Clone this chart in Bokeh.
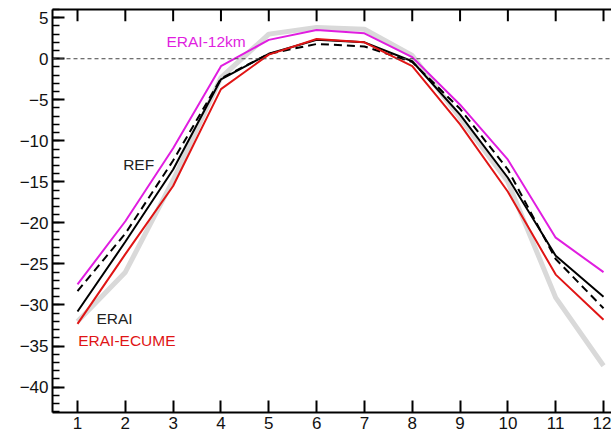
from bokeh.plotting import figure
from bokeh.models import LinearAxis, FixedTicker, SingleIntervalTicker, Span, Label
from bokeh.embed import file_html
from bokeh.resources import INLINE

months = [1, 2, 3, 4, 5, 6, 7, 8, 9, 10, 11, 12]
obs_gray = [-32.0, -26.0, -14.8, -2.3, 3.0, 3.8, 3.6, 0.4, -7.2, -15.0, -29.1, -37.4]
ref_dashed = [-28.3, -21.3, -12.4, -2.4, 0.6, 1.8, 1.5, -0.4, -6.1, -13.5, -24.4, -30.4]
erai = [-30.8, -22.3, -13.5, -2.5, 0.6, 2.3, 2.0, -0.3, -6.8, -14.5, -24.0, -29.0]
erai_ecume = [-32.3, -23.8, -15.5, -3.7, 0.5, 2.4, 2.0, -0.9, -8.0, -16.2, -26.3, -31.8]
erai_12km = [-27.5, -19.8, -10.9, -0.9, 2.3, 3.5, 3.1, 0.2, -5.6, -12.3, -21.8, -26.0]

FONT = "Liberation Sans"
Y_TOP = 6.0
Y_BOTTOM = -43.1

p = figure(width=611, height=438, x_range=(0.477, 12.167), y_range=(Y_BOTTOM, Y_TOP),
           output_backend="svg", toolbar_location=None,
           min_border_left=52, min_border_right=0, min_border_top=9, min_border_bottom=26)
p.outline_line_color = None
p.xgrid.visible = False
p.ygrid.visible = False
p.background_fill_color = "white"
p.border_fill_color = "white"

xt = FixedTicker(ticks=months)
yt = SingleIntervalTicker(interval=5, num_minor_ticks=5)

for ax in [p.xaxis[0], p.yaxis[0]]:
    ax.axis_line_width = 2
    ax.axis_line_color = "black"
    ax.major_tick_in = 12
    ax.major_tick_out = 0
    ax.major_tick_line_width = 2
    ax.minor_tick_in = 7
    ax.minor_tick_out = 0
    ax.minor_tick_line_width = 1.5
    ax.major_label_text_font = FONT
    ax.major_label_text_font_size = "17px"
    ax.major_label_text_color = "#111111"
    ax.major_label_standoff = 4

p.xaxis[0].ticker = xt
p.xaxis[0].minor_tick_line_color = None
p.yaxis[0].ticker = yt

# top frame line (no ticks / labels from the axis itself)
top = LinearAxis(ticker=FixedTicker(ticks=[]))
top.axis_line_width = 2
top.major_tick_line_color = None
top.minor_tick_line_color = None
top.major_label_standoff = 0
p.add_layout(top, "above")

# inward ticks along the top edge (12 px long)
tick_len = 12 / (409.0 / (Y_TOP - Y_BOTTOM))
p.segment(x0=months, y0=[Y_TOP] * len(months), x1=months,
          y1=[Y_TOP - tick_len] * len(months), line_color="black", line_width=2)

p.add_layout(Span(location=0, dimension="width", line_color="#444444",
                  line_width=1, line_dash="4 3"))

p.line(months, obs_gray, line_color="#d9d9d9", line_width=5)
p.line(months, ref_dashed, line_color="black", line_width=2, line_dash="8 5")
p.line(months, erai, line_color="black", line_width=2)
p.line(months, erai_ecume, line_color="#e01515", line_width=2)
p.line(months, erai_12km, line_color="#e01ee0", line_width=2)

labels = [("ERAI-12km", 2.86, 2.07, "#e01ee0"),
          ("REF", 1.955, -12.87, "#222222"),
          ("ERAI", 1.397, -31.6, "#222222"),
          ("ERAI-ECUME", 1.015, -34.35, "#e01515")]
for txt, lx, ly, col in labels:
    p.add_layout(Label(x=lx, y=ly, text=txt, text_color=col, text_font=FONT,
                       text_font_size="15.5px", text_baseline="middle", text_align="left"))

open("out.html", "w").write(file_html(p, INLINE))
